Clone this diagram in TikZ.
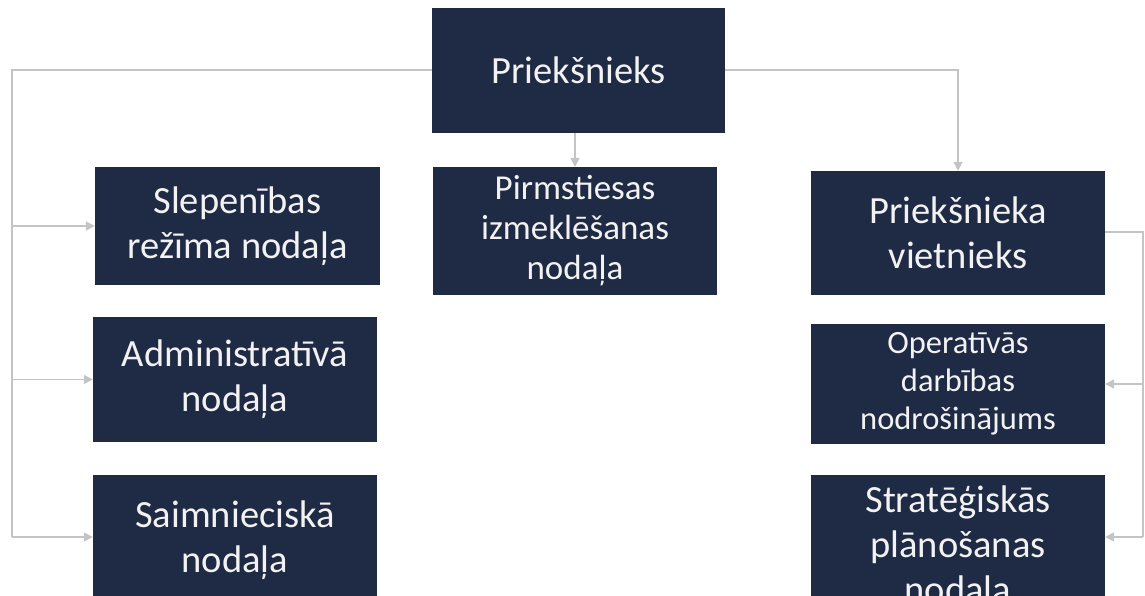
\documentclass[tikz,border=0pt]{standalone}
\usepackage{fontspec}
\setmainfont{Carlito}
\usetikzlibrary{arrows.meta,calc}
\definecolor{navy}{HTML}{1F2A44}
\definecolor{conn}{HTML}{C4C4C4}
\definecolor{txt}{HTML}{F2F2F2}
\tikzset{
  box/.style={rectangle, fill=navy, text=txt, align=center, inner sep=0pt},
  big/.style={font=\fontsize{38.5}{45}\selectfont},
  mid/.style={font=\fontsize{35}{40}\selectfont},
  small/.style={font=\fontsize{32.5}{38}\selectfont},
  link/.style={draw=conn, line width=1.6pt},
  arr/.style={link, -{Triangle[length=9pt,width=9pt]}}
}
\begin{document}
\begin{tikzpicture}[x=1pt,y=-1pt]
\useasboundingbox (0,0) rectangle (1145,596);
\clip (0,0) rectangle (1145,596);
\node[box,big, minimum width=293pt, minimum height=125pt] (top) at (578.5,70.5) {Priekšnieks};
\node[box,mid, minimum width=284pt, minimum height=128pt] (pirm) at (575,231) {Pirmstiesas\\izmeklēšanas\\nodaļa};
\node[box,big, minimum width=285pt, minimum height=118pt] (slep) at (237.5,226) {Slepenības\\režīma nodaļa};
\node[box,big, minimum width=284pt, minimum height=125pt] (admin) at (235,379.5) {Administratīvā\\nodaļa};
\node[box,big, minimum width=284pt, minimum height=130pt] (saim) at (235,540) {Saimnieciskā\\nodaļa};
\node[box,big, minimum width=294pt, minimum height=124pt] (viet) at (958,233) {Priekšnieka\\vietnieks};
\node[box,small, minimum width=294pt, minimum height=120pt] (oper) at (958,384) {Operatīvās\\darbības\\nodrošinājums};
\node[box,big, minimum width=294pt, minimum height=145pt] (strat) at (958,547.5) {Stratēģiskās\\plānošanas\\nodaļa};

\coordinate (Lt) at (12,70);
\coordinate (Lb) at (12,537);
\coordinate (Rt) at (1143,232);
\coordinate (Rb) at (1143,537);

% left branch
\draw[link] (top.west |- Lt) -- (Lt) -- (Lb);
\draw[arr] (Lt |- slep.west) -- (slep.west);
\draw[arr] (Lt |- admin.west) -- (admin.west);
\draw[arr] (Lb) -- (saim.west |- Lb);

% centre
\draw[arr] (top.south -| pirm.north) -- (pirm.north);

% right top
\draw[arr] (top.east |- Lt) -| (viet.north);

% right branch
\draw[link] (viet.east |- Rt) -- (Rt) -- (Rb);
\draw[arr] (Rt |- oper.east) -- (oper.east);
\draw[arr] (Rb) -- (strat.east |- Rb);
\end{tikzpicture}
\end{document}
